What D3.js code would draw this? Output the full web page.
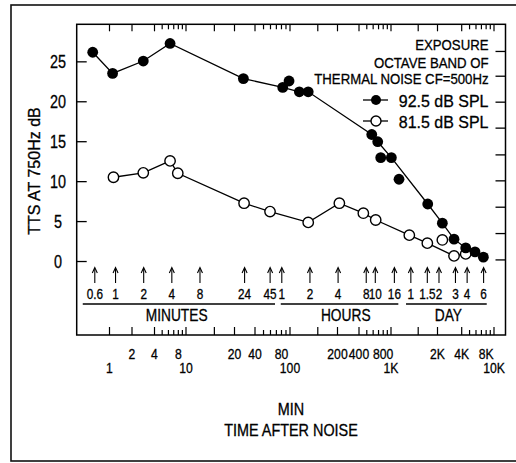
<!DOCTYPE html>
<html><head><meta charset="utf-8">
<script src="https://cdn.jsdelivr.net/npm/d3@7"></script>
<style>
body{margin:0;background:#fff}
text{font-family:'Liberation Sans',Arial,sans-serif;fill:#000;stroke:#000;stroke-width:0.3px}
</style>
</head><body>
<svg id="c" width="516" height="463"></svg>
<script>
// ---------- data ----------
// 92.5 dB SPL series (connected points), time in minutes after noise, TTS in dB
const highTimes = [0.57, 0.93, 1.98, 3.83, 23.3, 61.4, 92.4, 115, 550, 637, 891, 2183, 3128, 4171, 5562, 6992, 8590];
const highTTS   = [26.2, 23.55, 25.1, 27.3, 22.9, 21.8, 21.25, 21.25, 15.9, 15.0, 13.0, 7.2, 4.8, 2.8, 1.7, 1.2, 0.55];
// 92.5 dB SPL extra (unconnected) points
const highExtraTimes = [71.7, 686, 1076];
const highExtraTTS   = [22.6, 13.0, 10.3];
// 81.5 dB SPL series
const lowTimes = [0.95, 1.98, 3.83, 4.63, 23.7, 44.9, 115, 247.6, 447, 606, 1387, 2161, 4171, 5562];
const lowTTS   = [10.55, 11.1, 12.6, 11.05, 7.3, 6.25, 4.9, 7.3, 6.05, 5.2, 3.3, 2.3, 0.7, 0.95];
const lowExtraTimes = [3128];
const lowExtraTTS   = [2.7];

// measurement-time arrows (minutes) and their labels
const arrowTimes  = [0.6, 1, 2, 4, 8, 24, 45, 60, 120, 240, 480, 600, 960, 1440, 2160, 2880, 4320, 5760, 8640];
const arrowLabels = ["0.6","1","2","4","8","24","45","1","2","4","8","10","16","1","1.5","2","3","4","6"];
const unitNames   = ["MINUTES", "HOURS", "DAY"];
const unitFrom    = [0.446, 58.5, 1279];
const unitTo      = [50.8, 1058, 9333];
const unitLabelAt = [4.5, 290, 3625];

// bottom/top log axis (minutes)
const axisKnots = [1, 2, 4, 10, 20, 40, 100, 200, 400, 1000, 2000, 4000, 10000];
const axisTicks = [1,2,4,5,6,7,8,9,10,15,20,40,50,60,70,80,90,100,150,200,400,500,600,700,800,900,1000,1500,2000,4000,5000,6000,7000,8000,9000,10000];
const axisRow1Vals = [2, 4, 8, 20, 40, 80, 200, 400, 800, 2000, 4000, 8000];
const axisRow1Text = ["2","4","8","20","40","80","200","400","800","2K","4K","8K"];
const axisRow2Vals = [1, 10, 100, 1000, 10000];
const axisRow2Text = ["1","10","100","1K","10K"];

const yTicks = [0, 5, 10, 15, 20, 25];
const rightTicks = [0.2, 3.5, 6.8, 10.1, 13.35, 16.7, 19.95, 23.2, 26.3];

const legendLines = ["EXPOSURE", "OCTAVE BAND OF", "THERMAL NOISE CF=500Hz"];
const seriesNames = ["92.5 dB SPL", "81.5 dB SPL"];

// ---------- layout ----------
const svg = d3.select("#c");
const L = 76.7, R = 505.5, T = 24.3, B = 335;

// data x scale (log, aligned with the measurement arrows)
const x = d3.scaleLog().domain([0.6, 8640]).range([94.8, 483.6]);
// printed axis scale (hand-drawn, uneven decades)
const xa = d3.scaleLog().domain(axisKnots)
  .range([109.5, 132, 154.5, 186, 234.5, 255, 290, 337.5, 359, 391, 437.5, 461.7, 494]);
const y = d3.scaleLinear().domain([-9.2, 29.7]).range([B, T]);

const tf = (px, py, sx) => `translate(${px},${py}) scale(${sx},1)`;

// outer frame
svg.append("rect").attr("x", 11).attr("y", 5).attr("width", 520).attr("height", 456)
  .attr("fill", "none").attr("stroke", "#111").attr("stroke-width", 1.6);

// plot frame
svg.append("rect").attr("x", L).attr("y", T).attr("width", R - L).attr("height", B - T)
  .attr("fill", "none").attr("stroke", "#000").attr("stroke-width", 1.5);

// top & bottom ticks (inward)
const isMinor = v => { const m = v / Math.pow(10, Math.floor(Math.log10(v) + 1e-9)); return m >= 5 && m <= 9.5; };
svg.append("g").selectAll("line").data(axisTicks).join("line")
  .attr("x1", d => xa(d)).attr("x2", d => xa(d))
  .attr("y1", B).attr("y2", d => B - (isMinor(d) ? 5 : 8))
  .attr("stroke", "#000").attr("stroke-width", 1.2);
svg.append("g").selectAll("line").data(axisTicks).join("line")
  .attr("x1", d => xa(d)).attr("x2", d => xa(d))
  .attr("y1", T).attr("y2", d => T + (isMinor(d) ? 5 : 7))
  .attr("stroke", "#000").attr("stroke-width", 1.2);

// bottom axis labels
svg.append("g").selectAll("text").data(axisRow1Vals).join("text")
  .attr("transform", d => tf(xa(d), 359, 0.84)).attr("text-anchor", "middle")
  .attr("font-size", 14.5).text((d, i) => axisRow1Text[i]);
svg.append("g").selectAll("text").data(axisRow2Vals).join("text")
  .attr("transform", d => tf(xa(d), 373, 0.84)).attr("text-anchor", "middle")
  .attr("font-size", 14.5).text((d, i) => axisRow2Text[i]);

// x titles
svg.append("text").attr("transform", tf(291, 415, 0.9)).attr("text-anchor", "middle").attr("font-size", 16).text("MIN");
svg.append("text").attr("transform", tf(291, 436, 0.9)).attr("text-anchor", "middle").attr("font-size", 16).text("TIME AFTER NOISE");

// left y ticks
svg.append("g").selectAll("line").data(yTicks).join("line")
  .attr("x1", L).attr("x2", L + 10).attr("y1", d => y(d)).attr("y2", d => y(d))
  .attr("stroke", "#000").attr("stroke-width", 1.3);
svg.append("g").selectAll("text").data(yTicks).join("text")
  .attr("transform", d => tf(58, y(d) + 6.5, 0.8)).attr("text-anchor", "middle")
  .attr("font-size", 18).text(d => d);
// right ticks
svg.append("g").selectAll("line").data(rightTicks).join("line")
  .attr("x1", R - 10).attr("x2", R).attr("y1", d => y(d)).attr("y2", d => y(d))
  .attr("stroke", "#000").attr("stroke-width", 1.3);

// y title
svg.append("text").attr("transform", "translate(40,171) rotate(-90)")
  .attr("text-anchor", "middle").attr("font-size", 16).text("TTS AT 750Hz dB");

// arrows
const ag = svg.append("g");
arrowTimes.forEach((t, i) => {
  const ax = x(t);
  ag.append("line").attr("x1", ax).attr("x2", ax).attr("y1", 283).attr("y2", 269)
    .attr("stroke", "#000").attr("stroke-width", 1.1);
  ag.append("path").attr("d", `M${ax - 2.5},${273} L${ax},${267.5} L${ax + 2.5},${273}`)
    .attr("fill", "none").attr("stroke", "#000").attr("stroke-width", 1.1);
  ag.append("text").attr("transform", tf(ax, 299, 0.84)).attr("text-anchor", "middle")
    .attr("font-size", 14).text(arrowLabels[i]);
});
// unit underlines and names
unitNames.forEach((n, i) => {
  const x0 = x(unitFrom[i]), x1 = x(unitTo[i]);
  svg.append("line").attr("x1", x0).attr("x2", x1).attr("y1", 304).attr("y2", 304)
    .attr("stroke", "#000").attr("stroke-width", 1.3);
  svg.append("text").attr("transform", tf(x(unitLabelAt[i]), 320.5, 0.86)).attr("text-anchor", "middle")
    .attr("font-size", 16).text(n);
});

// series lines
const line = d3.line().x(d => x(d[0])).y(d => y(d[1]));
const highPts = highTimes.map((t, i) => [t, highTTS[i]]);
const lowPts = lowTimes.map((t, i) => [t, lowTTS[i]]);
svg.append("path").attr("d", line(highPts)).attr("fill", "none").attr("stroke", "#000").attr("stroke-width", 1.3);
svg.append("path").attr("d", line(lowPts)).attr("fill", "none").attr("stroke", "#000").attr("stroke-width", 1.3);

const allHigh = highPts.concat(highExtraTimes.map((t, i) => [t, highExtraTTS[i]]));
const allLow = lowPts.concat(lowExtraTimes.map((t, i) => [t, lowExtraTTS[i]]));
svg.append("g").selectAll("circle").data(allLow).join("circle")
  .attr("cx", d => x(d[0])).attr("cy", d => y(d[1])).attr("r", 5.2)
  .attr("fill", "#fff").attr("stroke", "#000").attr("stroke-width", 1.4);
svg.append("g").selectAll("circle").data(allHigh).join("circle")
  .attr("cx", d => x(d[0])).attr("cy", d => y(d[1])).attr("r", 5.4)
  .attr("fill", "#000");

// legend
const ly = [50, 67.5, 83.5];
legendLines.forEach((s, i) => {
  svg.append("text").attr("transform", tf(488.5, ly[i], 0.88)).attr("text-anchor", "end")
    .attr("font-size", 15).text(s);
});
const sy = [100, 121];
seriesNames.forEach((s, i) => {
  svg.append("line").attr("x1", 363).attr("x2", 388).attr("y1", sy[i]).attr("y2", sy[i])
    .attr("stroke", "#000").attr("stroke-width", 1.3);
  svg.append("circle").attr("cx", 376).attr("cy", sy[i]).attr("r", 5)
    .attr("fill", i === 0 ? "#000" : "#fff").attr("stroke", "#000").attr("stroke-width", i === 0 ? 0 : 1.4);
  svg.append("text").attr("transform", tf(488.5, sy[i] + 6.5, 0.94)).attr("text-anchor", "end")
    .attr("font-size", 17).text(s);
});
</script>
</body></html>
